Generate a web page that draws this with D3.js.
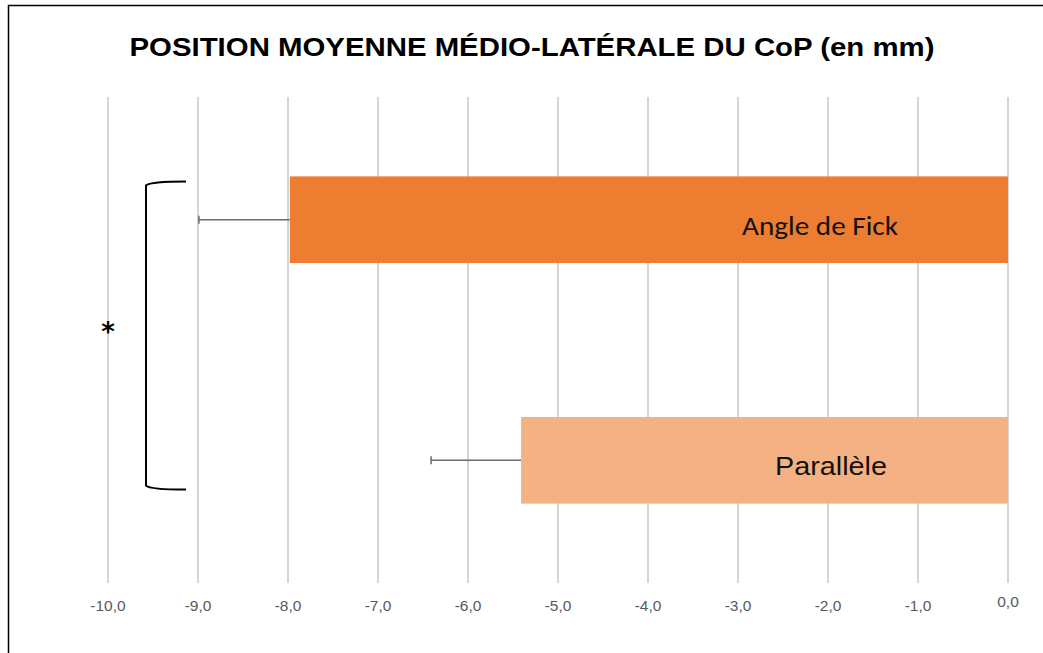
<!DOCTYPE html>
<html>
<head>
<meta charset="utf-8">
<script src="https://cdn.jsdelivr.net/npm/d3@7"></script>
<style>
  body { margin: 0; background: #fff; }
  svg { display: block; }
</style>
</head>
<body>
<div class="container"></div>
<script>
var categories = ['Angle de Fick', 'Parallèle']
var values = [-7.98, -5.41]
var errors = [1.01, 1.0]
var colors = ['#ED7D31', '#F4B183']
var tickValues = [-10, -9, -8, -7, -6, -5, -4, -3, -2, -1, 0]

var width = 1043, height = 653

var svg = d3.select('.container')
  .append('svg')
    .attr('width', width)
    .attr('height', height)

// frame (only top and left visible in the shot)
svg.append('path')
  .attr('d', 'M8.5,' + (height + 5) + 'V5.5H' + (width + 5))
  .attr('fill', 'none')
  .attr('stroke', '#000')
  .attr('stroke-width', 1.5)

svg.append('text')
  .attr('x', 532)
  .attr('y', 56)
  .attr('text-anchor', 'middle')
  .attr('font-family', 'Liberation Sans, Arial, sans-serif')
  .attr('font-weight', 'bold')
  .attr('font-size', 26)
  .attr('textLength', 805)
  .attr('lengthAdjust', 'spacingAndGlyphs')
  .text('POSITION MOYENNE MÉDIO-LATÉRALE DU CoP (en mm)')

var x = d3.scaleLinear().domain([-10, 0]).range([108, 1008])
var y = d3.scaleBand().domain(categories).range([97, 583]).paddingInner(0.64).paddingOuter(0.33)

// gridlines
svg.append('g')
  .selectAll('line')
  .data(tickValues)
  .enter()
  .append('line')
    .attr('x1', function(d) { return x(d) })
    .attr('x2', function(d) { return x(d) })
    .attr('y1', 97)
    .attr('y2', 583)
    .attr('stroke', '#c8c8c8')
    .attr('stroke-width', 1.5)

// tick labels
svg.append('g')
  .selectAll('text')
  .data(tickValues)
  .enter()
  .append('text')
    .attr('x', function(d) { return x(d) })
    .attr('y', function(d) { return d === 0 ? 607 : 611 })
    .attr('text-anchor', 'middle')
    .attr('font-family', 'Liberation Sans, Arial, sans-serif')
    .attr('font-size', 15.5)
    .attr('fill', '#595959')
    .text(function(d) { return d3.format('.1f')(d).replace('.', ',').replace('−', '-') })

var rows = categories.map(function(c, i) {
  return { name: c, value: values[i], err: errors[i], color: colors[i] }
})

// error bars
var eb = svg.append('g')
rows.forEach(function(d) {
  var cy = y(d.name) + y.bandwidth() / 2
  eb.append('line')
    .attr('x1', x(d.value - d.err)).attr('x2', x(d.value))
    .attr('y1', cy).attr('y2', cy)
    .attr('stroke', '#6b6b6b').attr('stroke-width', 1.5)
  eb.append('line')
    .attr('x1', x(d.value - d.err)).attr('x2', x(d.value - d.err))
    .attr('y1', cy - 4).attr('y2', cy + 4)
    .attr('stroke', '#6b6b6b').attr('stroke-width', 1.5)
})

// bars
svg.append('g')
  .selectAll('rect')
  .data(rows)
  .enter()
  .append('rect')
    .attr('x', function(d) { return x(d.value) })
    .attr('y', function(d) { return y(d.name) })
    .attr('width', function(d) { return x(0) - x(d.value) })
    .attr('height', y.bandwidth())
    .attr('fill', function(d) { return d.color })

// bar labels
svg.append('text')
  .attr('x', 820)
  .attr('y', 235)
  .attr('text-anchor', 'middle')
  .attr('font-family', 'Carlito, Open Sans, sans-serif')
  .attr('font-size', 26)
  .attr('textLength', 156)
  .attr('lengthAdjust', 'spacingAndGlyphs')
  .attr('fill', '#111')
  .text(categories[0])

svg.append('text')
  .attr('x', 831)
  .attr('y', 475)
  .attr('text-anchor', 'middle')
  .attr('font-family', 'Liberation Sans, Arial, sans-serif')
  .attr('font-size', 26)
  .attr('textLength', 112)
  .attr('lengthAdjust', 'spacingAndGlyphs')
  .attr('fill', '#111')
  .text(categories[1])

// significance bracket
var y0 = y(categories[0]) + 6, y1 = y(categories[1]) + y.bandwidth() - 15
svg.append('path')
  .attr('d', 'M186,' + (y0 - 1) + 'Q150,' + (y0 - 1) + ' 146,' + (y0 + 3) +
             'V' + (y1 - 3) + 'Q150,' + (y1 + 1) + ' 186,' + (y1 + 1))
  .attr('fill', 'none')
  .attr('stroke', '#000')
  .attr('stroke-width', 2)

svg.append('text')
  .attr('x', 108)
  .attr('y', 341)
  .attr('text-anchor', 'middle')
  .attr('font-family', 'DejaVu Sans, sans-serif')
  .attr('font-weight', 'bold')
  .attr('font-size', 26)
  .text('*')
</script>
</body>
</html>
